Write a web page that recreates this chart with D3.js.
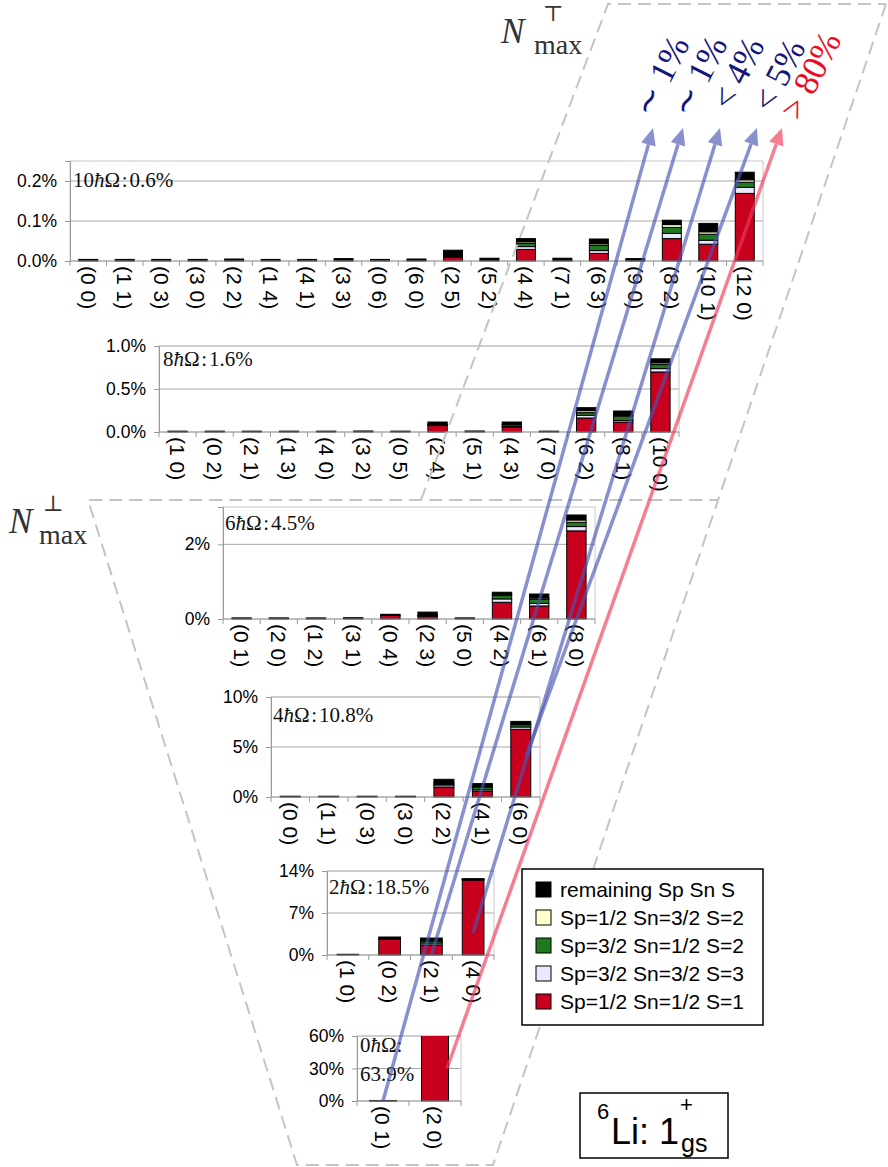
<!DOCTYPE html>
<html>
<head>
<meta charset="utf-8">
<script src="https://cdn.jsdelivr.net/npm/d3@7"></script>
<style>
  body { margin: 0; background: #fff; }
  svg { display: block; }
</style>
</head>
<body>
<svg id="fig" width="888" height="1167"></svg>
<script>
// ---------------------------------------------------------------
// Spin decomposition of the 6Li 1+ ground state, per Nħω subspace
// and per SU(3) irrep (λ μ).  Values are percentages of the state.
// Stack order (bottom -> top): red, lav, grn, crm, rem
// ---------------------------------------------------------------
const componentNames = [
  "Sp=1/2 Sn=1/2 S=1",
  "Sp=3/2 Sn=3/2 S=3",
  "Sp=3/2 Sn=1/2 S=2",
  "Sp=1/2 Sn=3/2 S=2",
  "remaining Sp Sn S"
];

// 10ħΩ
const cat10 = ["(0 0)","(1 1)","(0 3)","(3 0)","(2 2)","(1 4)","(4 1)","(3 3)","(0 6)","(6 0)","(2 5)","(5 2)","(4 4)","(7 1)","(6 3)","(9 0)","(8 2)","(10 1)","(12 0)"];
const red10 = [0,0,0,0,0.001,0,0,0.001,0,0.001,0.009,0.002,0.029,0.002,0.019,0.001,0.056,0.042,0.169];
const lav10 = [0,0,0,0,0,0,0,0,0,0,0.002,0,0.007,0,0.007,0,0.013,0.010,0.015];
const grn10 = [0,0,0,0,0,0,0,0,0,0,0.002,0,0.008,0,0.013,0,0.015,0.015,0.013];
const crm10 = [0,0,0,0,0,0,0,0,0,0,0.001,0,0.004,0,0.004,0,0.007,0.006,0.006];
const rem10 = [0.004,0.004,0.004,0.004,0.004,0.004,0.004,0.005,0.004,0.004,0.013,0.005,0.008,0.005,0.012,0.005,0.011,0.021,0.019];
const ticks10 = [0, 0.1, 0.2];

// 8ħΩ
const cat8 = ["(1 0)","(0 2)","(2 1)","(1 3)","(4 0)","(3 2)","(0 5)","(2 4)","(5 1)","(4 3)","(7 0)","(6 2)","(8 1)","(10 0)"];
const red8 = [0,0,0,0,0,0,0,0.075,0,0.055,0,0.163,0.116,0.698];
const lav8 = [0,0,0,0,0,0,0,0.005,0,0.010,0,0.031,0.018,0.039];
const grn8 = [0,0,0,0,0,0,0,0.005,0,0.020,0,0.031,0.050,0.047];
const crm8 = [0,0,0,0,0,0,0,0.003,0,0.005,0,0.023,0.010,0.020];
const rem8 = [0.01,0.01,0.01,0.01,0.01,0.012,0.01,0.028,0.012,0.026,0.01,0.035,0.050,0.047];
const ticks8 = [0, 0.5, 1.0];

// 6ħΩ
const cat6 = ["(0 1)","(2 0)","(1 2)","(3 1)","(0 4)","(2 3)","(5 0)","(4 2)","(6 1)","(8 0)"];
const red6 = [0,0,0,0,0.10,0.08,0,0.448,0.349,2.36];
const lav6 = [0,0,0,0,0,0.005,0,0.09,0.07,0.116];
const grn6 = [0,0,0,0,0,0.005,0,0.09,0.107,0.116];
const crm6 = [0,0,0,0,0,0.005,0,0.035,0.036,0.06];
const rem6 = [0.03,0.03,0.03,0.035,0.026,0.09,0.03,0.054,0.107,0.134];
const ticks6 = [0, 2];

// 4ħΩ
const cat4 = ["(0 0)","(1 1)","(0 3)","(3 0)","(2 2)","(4 1)","(6 0)"];
const red4 = [0,0,0,0,1.0,0.57,6.77];
const lav4 = [0,0,0,0,0.2,0.15,0.23];
const grn4 = [0,0,0,0,0.1,0.25,0.23];
const crm4 = [0,0,0,0,0.1,0.07,0.1];
const rem4 = [0.08,0.08,0.08,0.08,0.37,0.3,0.23];
const ticks4 = [0, 5, 10];

// 2ħΩ
const cat2 = ["(1 0)","(0 2)","(2 1)","(4 0)"];
const red2 = [0,2.6,1.69,12.5];
const lav2 = [0,0.05,0.3,0.05];
const grn2 = [0,0.05,0.35,0.05];
const crm2 = [0,0.05,0.15,0.02];
const rem2 = [0.12,0.25,0.34,0.1];
const ticks2 = [0, 7, 14];

// 0ħΩ
const cat0 = ["(0 1)","(2 0)"];
const red0 = [0.1, 61.0];
const lav0 = [0, 0.8];
const grn0 = [0, 0.6];
const crm0 = [0, 0.3];
const rem0 = [0.4, 0.7];
const ticks0 = [0, 30, 60];

// subspace labels
const shellN     = ["10", "8", "6", "4", "2", "0"];
const shellTotal = ["0.6%", "1.6%", "4.5%", "10.8%", "18.5%", "63.9%"];
const shellMax   = [0.25, 1.0, 3.0, 10, 14, 60];

// family annotations at the top
const arrowLabels = ["\u223C 1%", "\u223C 1%", "< 4%", "< 5%", "> 80%"];

// ---------------------------------------------------------------
// Styling and layout
// ---------------------------------------------------------------
const SANS = "'Liberation Sans', Arial, Helvetica, sans-serif";
const SERIF = "'Liberation Serif', 'Times New Roman', serif";
const stackColors = ["#c8001e", "#e8e8ff", "#1f7a1f", "#ffffcc", "#000000"];
const BLUE = "#4a55b5", RED = "#f03a5a";
const NAVY = "#16167a", LABEL_RED = "#ee0a22";

const panelBoxes = [
  { x0: 70,  x1: 763, y0: 161,  y1: 261,  lab: [73, 187] },
  { x0: 159, x1: 679, y0: 346,  y1: 432,  lab: [163, 366] },
  { x0: 223, x1: 595, y0: 507,  y1: 619,  lab: [225, 530] },
  { x0: 271, x1: 540, y0: 697,  y1: 797,  lab: [273, 722] },
  { x0: 327, x1: 494, y0: 871,  y1: 955,  lab: [329, 894] },
  { x0: 357, x1: 461, y0: 1036, y1: 1101, lab: [360, 1052] }
];

const panels = [
  { cats: cat10, series: [red10, lav10, grn10, crm10, rem10], ticks: ticks10, fmt: d => d.toFixed(1) + "%" },
  { cats: cat8,  series: [red8, lav8, grn8, crm8, rem8],      ticks: ticks8,  fmt: d => d.toFixed(1) + "%" },
  { cats: cat6,  series: [red6, lav6, grn6, crm6, rem6],      ticks: ticks6,  fmt: d => d + "%" },
  { cats: cat4,  series: [red4, lav4, grn4, crm4, rem4],      ticks: ticks4,  fmt: d => d + "%" },
  { cats: cat2,  series: [red2, lav2, grn2, crm2, rem2],      ticks: ticks2,  fmt: d => d + "%" },
  { cats: cat0,  series: [red0, lav0, grn0, crm0, rem0],      ticks: ticks0,  fmt: d => d + "%" }
].map((p, i) => Object.assign(p, { n: shellN[i], total: shellTotal[i], max: shellMax[i], box: panelBoxes[i], id: i }));

const svg = d3.select("#fig");
const defs = svg.append("defs");

// ---------------------------------------------------------------
// Panels
// ---------------------------------------------------------------
panels.forEach(p => {
  const { x0, x1, y0, y1 } = p.box;
  const g = svg.append("g");
  const x = d3.scaleBand().domain(p.cats).range([x0, x1]).paddingInner(0.48).paddingOuter(0.24);
  const y = d3.scaleLinear().domain([0, p.max]).range([y1, y0]);
  p.x = x; p.y = y;

  // grid
  g.selectAll("line.grid").data(p.ticks.filter(t => t > 0)).join("line")
    .attr("x1", x0).attr("x2", x1)
    .attr("y1", d => y(d)).attr("y2", d => y(d))
    .attr("stroke", "#a8a8a8").attr("stroke-width", 1);

  // plot frame
  g.append("rect").attr("x", x0).attr("y", y0)
    .attr("width", x1 - x0).attr("height", y1 - y0)
    .attr("fill", "none").attr("stroke", "#c8c8c8").attr("stroke-width", 1);

  // stacked bars
  defs.append("clipPath").attr("id", "clip" + p.id)
    .append("rect").attr("x", x0 - 2).attr("y", y0).attr("width", x1 - x0 + 4).attr("height", y1 - y0 + 2);

  const rows = p.cats.map((c, i) => {
    const r = { cat: c };
    p.series.forEach((s, k) => { r[k] = s[i]; });
    return r;
  });
  const stacked = d3.stack().keys(d3.range(p.series.length))(rows);

  g.append("g").attr("clip-path", `url(#clip${p.id})`)
    .selectAll("g").data(stacked).join("g")
    .attr("fill", (d, k) => stackColors[k])
    .selectAll("rect").data(d => d.filter(s => s[1] - s[0] > 0)).join("rect")
    .attr("x", d => x(d.data.cat))
    .attr("width", x.bandwidth())
    .attr("y", d => y(d[1]))
    .attr("height", d => y(d[0]) - y(d[1]))
    .attr("stroke", "#000").attr("stroke-width", 1);

  // y axis
  g.append("g").attr("transform", `translate(${x0},0)`)
    .call(d3.axisLeft(y).tickValues(p.ticks).tickFormat(p.fmt).tickSize(5).tickPadding(8))
    .call(a => a.select(".domain").attr("stroke", "#999"))
    .call(a => a.selectAll(".tick line").attr("stroke", "#999"))
    .call(a => a.selectAll(".tick text").attr("font-family", SANS).attr("font-size", 17.5).attr("fill", "#000"));

  // x axis: baseline, separators and rotated labels
  g.append("line").attr("x1", x0).attr("x2", x1).attr("y1", y1).attr("y2", y1)
    .attr("stroke", "#999").attr("stroke-width", 1);
  const step = x.step();
  g.selectAll("line.sep").data(d3.range(p.cats.length + 1)).join("line")
    .attr("x1", i => x0 + i * step).attr("x2", i => x0 + i * step)
    .attr("y1", y1).attr("y2", y1 + 5)
    .attr("stroke", "#999");
  g.selectAll("text.cat").data(p.cats).join("text")
    .attr("transform", d => `translate(${x(d) + x.bandwidth() / 2},${y1 + 5}) rotate(90)`)
    .attr("dy", "0.36em")
    .attr("font-family", SANS).attr("font-size", 21).attr("fill", "#000")
    .text(d => d);

  // subspace label
  const [lx, ly] = p.box.lab;
  const t = g.append("text").attr("x", lx).attr("y", ly)
    .attr("font-family", SERIF).attr("font-size", 21).attr("fill", "#111");
  t.append("tspan").text(p.n);
  t.append("tspan").attr("font-style", "italic").text("\u0127");
  if (p.n === "0") {
    t.append("tspan").text("\u03A9:");
    g.append("text").attr("x", lx).attr("y", ly + 29)
      .attr("font-family", SERIF).attr("font-size", 21).attr("fill", "#111")
      .text(p.total);
  } else {
    t.append("tspan").text("\u03A9\u200A:\u200A" + p.total);
  }
});

// ---------------------------------------------------------------
// Dashed N_max regions
// ---------------------------------------------------------------
const dash = svg.append("g").attr("fill", "none").attr("stroke", "#c4c4c4")
  .attr("stroke-width", 2).attr("stroke-dasharray", "13,7");
dash.append("path").attr("d", "M421,500 L608,4 L886,4");
dash.append("path").attr("d", "M886,4 L493,1165 L297,1165 L88,500 L718,500");

// ---------------------------------------------------------------
// Family arrows
// ---------------------------------------------------------------
const arrows = [
  { p: 5, cat: "(0 1)", v: 0,   dx: 0,  tip: [653, 128], col: BLUE, lab: [652, 119], tc: NAVY },
  { p: 4, cat: "(2 1)", v: 0,   dx: 0,  tip: [683, 128], col: BLUE, lab: [690, 119], tc: NAVY },
  { p: 4, cat: "(4 0)", v: 3.7, dx: 0,  tip: [720, 128], col: BLUE, lab: [731, 112], tc: NAVY },
  { p: 3, cat: "(6 0)", v: 4.0, dx: 5,  tip: [757, 128], col: BLUE, lab: [772, 114], tc: NAVY },
  { p: 5, cat: "(2 0)", v: 30,  dx: 12, tip: [782, 128], col: RED,  lab: [800, 122], tc: LABEL_RED }
];

arrows.forEach((a, i) => {
  const p = panels[a.p];
  const sx = p.x(a.cat) + p.x.bandwidth() / 2 + a.dx;
  const sy = p.y(a.v);
  const [tx, ty] = a.tip;
  const ang = Math.atan2(ty - sy, tx - sx);
  const L = 17, W = 7.5;
  const bx = tx - L * Math.cos(ang), by = ty - L * Math.sin(ang);
  const g = svg.append("g").attr("opacity", 0.65);
  g.append("line").attr("x1", sx).attr("y1", sy).attr("x2", bx).attr("y2", by)
    .attr("stroke", a.col).attr("stroke-width", 3.5);
  g.append("path")
    .attr("d", `M${tx},${ty} L${bx + W * Math.sin(ang)},${by - W * Math.cos(ang)} L${bx - W * Math.sin(ang)},${by + W * Math.cos(ang)} Z`)
    .attr("fill", a.col);

  svg.append("text")
    .attr("transform", `translate(${a.lab[0]},${a.lab[1]}) rotate(-63)`)
    .attr("font-family", SERIF).attr("font-size", 35).attr("fill", a.tc)
    .text(arrowLabels[i]);
});

// ---------------------------------------------------------------
// N_max labels
// ---------------------------------------------------------------
function nmax(x, y, sym, symDx, maxDx) {
  const g = svg.append("g").attr("fill", "#333");
  g.append("text").attr("x", x).attr("y", y)
    .attr("font-family", SERIF).attr("font-style", "italic").attr("font-size", 35).text("N");
  g.append("text").attr("x", x + symDx).attr("y", y - 22)
    .attr("font-family", "'DejaVu Serif', serif").attr("font-size", 22).text(sym);
  g.append("text").attr("x", x + maxDx).attr("y", y + 11)
    .attr("font-family", SERIF).attr("font-size", 28).text("max");
}
nmax(501, 43, "\u22A4", 42, 33);
nmax(9, 533, "\u22A5", 34, 30);

// ---------------------------------------------------------------
// Legend
// ---------------------------------------------------------------
const legend = svg.append("g");
legend.append("rect").attr("x", 522).attr("y", 869).attr("width", 241).attr("height", 156)
  .attr("fill", "#fff").attr("stroke", "#000").attr("stroke-width", 1.5);
const legendOrder = [4, 3, 2, 1, 0];
legendOrder.forEach((k, i) => {
  const cy = 890 + i * 28;
  legend.append("rect").attr("x", 536).attr("y", cy - 8).attr("width", 15).attr("height", 15)
    .attr("fill", stackColors[k]).attr("stroke", "#000").attr("stroke-width", 1);
  legend.append("text").attr("x", 560).attr("y", cy + 7)
    .attr("font-family", SANS).attr("font-size", 21).attr("fill", "#000")
    .text(componentNames[k]);
});

// ---------------------------------------------------------------
// Nucleus / state box
// ---------------------------------------------------------------
const nb = svg.append("g").attr("font-family", SANS).attr("fill", "#000");
nb.append("rect").attr("x", 580).attr("y", 1093).attr("width", 148).attr("height", 65)
  .attr("fill", "#fff").attr("stroke", "#000").attr("stroke-width", 1.5);
nb.append("text").attr("x", 597).attr("y", 1119).attr("font-size", 22).text("6");
nb.append("text").attr("x", 611).attr("y", 1144).attr("font-size", 36).text("Li: 1");
nb.append("text").attr("x", 680).attr("y", 1112).attr("font-size", 22).text("+");
nb.append("text").attr("x", 681).attr("y", 1152).attr("font-size", 25).text("gs");
</script>
</body>
</html>
